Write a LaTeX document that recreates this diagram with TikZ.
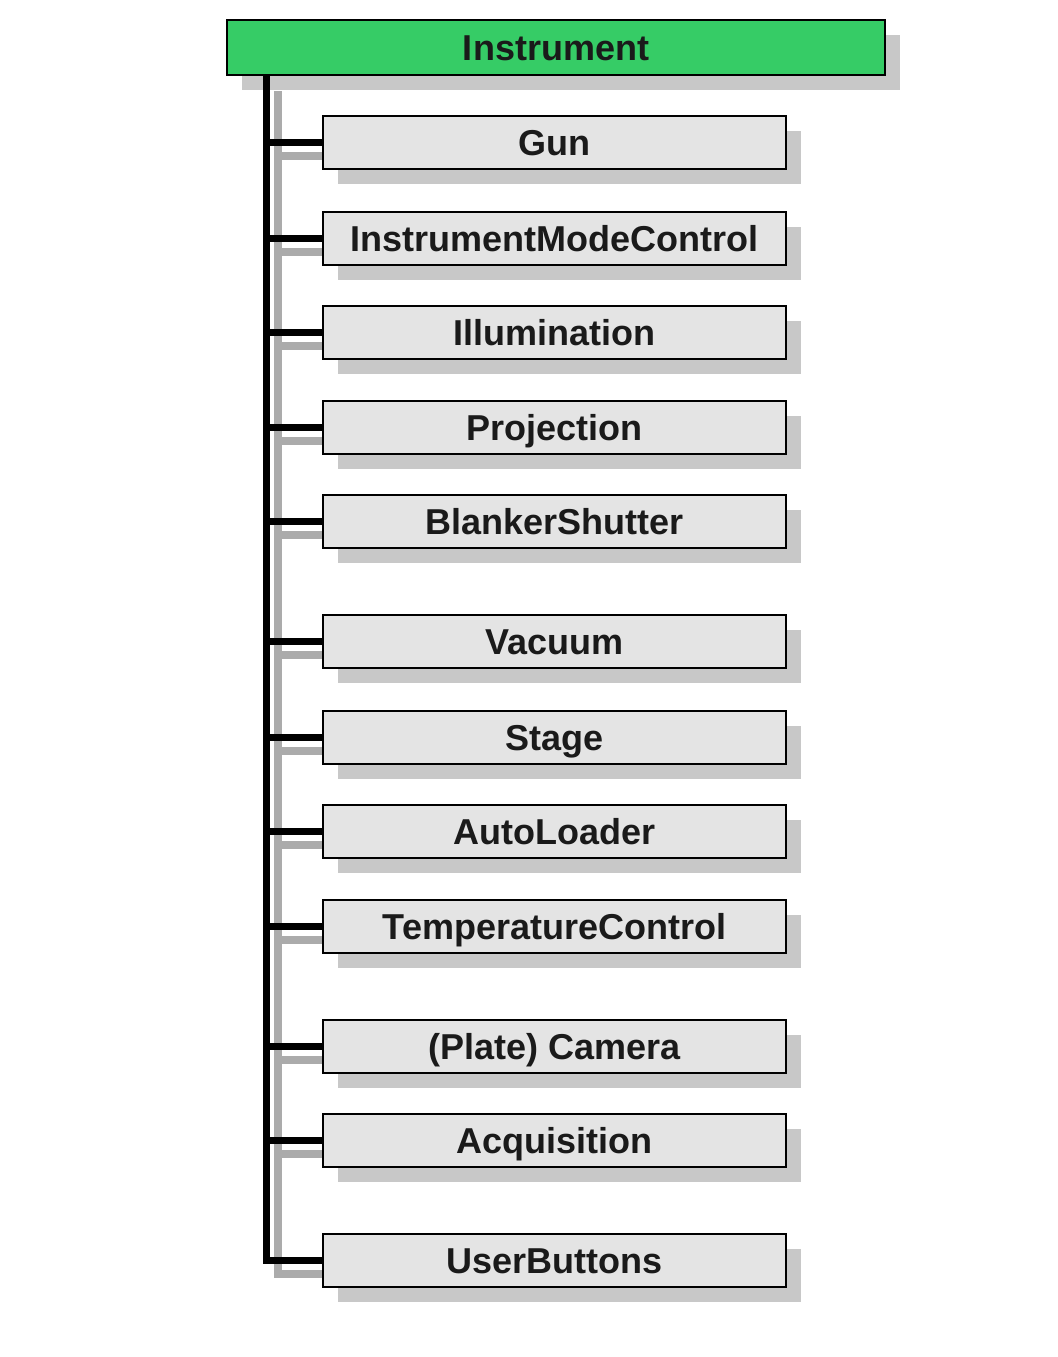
\documentclass[tikz,border=0pt]{standalone}
\usepackage{fontspec}
\setmainfont{Liberation Sans}
\usetikzlibrary{shadows}
\definecolor{rootgreen}{HTML}{36CC66}
\definecolor{boxgray}{HTML}{E4E4E4}
\definecolor{shadowgray}{HTML}{C8C8C8}
\definecolor{trunkgray}{HTML}{ABABAB}
\definecolor{textblack}{HTML}{1A1A1A}
\begin{document}
\begin{tikzpicture}[x=0.5pt,y=-0.5pt, line cap=butt, line join=miter,
  every node/.style={font=\fontsize{18}{20}\selectfont\bfseries, text=textblack},
  unitbox/.style={draw=black, line width=1pt, fill=boxgray, inner sep=0pt,
    minimum width=231.5pt, minimum height=26.5pt, text height=13pt, text depth=0pt,
    drop shadow={shadow xshift=7.5pt, shadow yshift=-7.5pt, fill=shadowgray, opacity=1}},
  rootbox/.style={unitbox, fill=rootgreen, minimum width=329pt, minimum height=27.5pt},
  link/.style={line width=3.5pt, black},
  linkshade/.style={line width=4pt, trunkgray}]
  \useasboundingbox (0,0) rectangle (1057,1357);
  % root
  \node[rootbox] (root) at (556,47.5) {Instrument};
  % sub units
  \foreach \name/\ypos/\label in {gun/142/Gun, imc/238/InstrumentModeControl,
      illum/332/Illumination, proj/427/Projection, blank/521/BlankerShutter,
      vac/641/Vacuum, stage/737/Stage, loader/831/AutoLoader,
      temp/926/TemperatureControl, cam/1046/(Plate) Camera,
      acq/1140/Acquisition, ub/1260/UserButtons}
    \node[unitbox] (\name) at (554.5,\ypos) {\label};
  % trunk
  \coordinate (trunk) at (266,0);
  \coordinate (shade) at (277.5,0);
  \draw[linkshade] ([yshift=-7.5pt]root.south -| shade) -- ([yshift=-7pt]ub.west -| shade) -- ([yshift=-7pt]ub.west);
  \foreach \name in {gun,imc,illum,proj,blank,vac,stage,loader,temp,cam,acq}
    \draw[linkshade] ([yshift=-7pt]\name.west -| shade) -- ([yshift=-7pt]\name.west);
  \draw[link] (root.south -| trunk) -- (ub.west -| trunk) -- (ub.west);
  \foreach \name in {gun,imc,illum,proj,blank,vac,stage,loader,temp,cam,acq}
    \draw[link] (\name.west -| trunk) -- (\name.west);
\end{tikzpicture}
\end{document}
